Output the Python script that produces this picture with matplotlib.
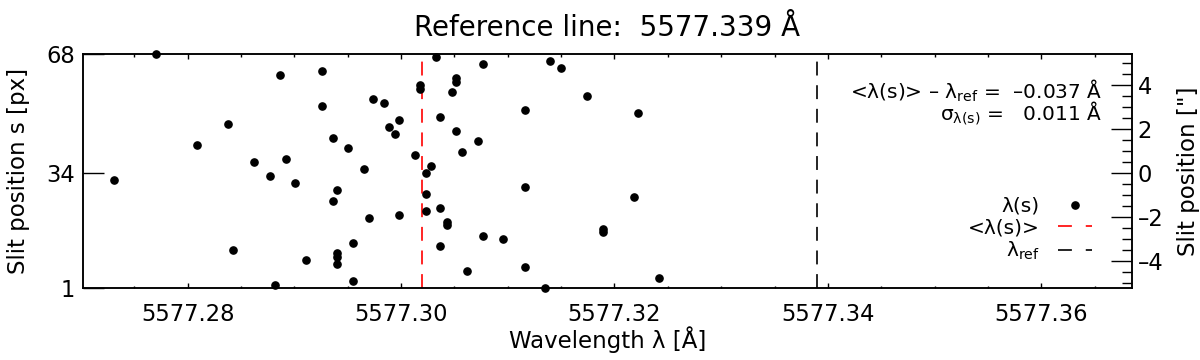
import numpy as np
import matplotlib
matplotlib.use("Agg")
import matplotlib.pyplot as plt
from matplotlib.ticker import MultipleLocator, FixedLocator, FuncFormatter

plt.rcParams['font.family'] = ['DejaVu Sans']
plt.rcParams['mathtext.fontset'] = 'custom'
plt.rcParams['mathtext.rm'] = 'DejaVu Sans'
plt.rcParams['mathtext.it'] = 'DejaVu Sans'
plt.rcParams['lines.scale_dashes'] = False

# data: slit pixel (5 and 25 missing) and fitted line centre
slit_px = [1, 2, 3, 4, 6, 7, 8, 9, 10, 11, 12, 13, 14, 15, 16, 17, 18, 19, 20,
           21, 22, 23, 24, 26, 27, 28, 29, 30, 31, 32, 33, 34, 35, 36, 37, 38,
           39, 40, 41, 42, 43, 44, 45, 46, 47, 48, 49, 50, 51, 52, 53, 54, 55,
           56, 57, 58, 59, 60, 61, 62, 63, 64, 65, 66, 67, 68]
wavelength = [5577.3135, 5577.2882, 5577.2955, 5577.3242, 5577.3062, 5577.3116,
              5577.2940, 5577.2911, 5577.2940, 5577.2940, 5577.2843, 5577.3037,
              5577.2955, 5577.3096, 5577.3077, 5577.3189, 5577.3189, 5577.3043,
              5577.3043, 5577.2970, 5577.2998, 5577.3023, 5577.3037, 5577.2936,
              5577.3218, 5577.3023, 5577.2940, 5577.3116, 5577.2901, 5577.2731,
              5577.2877, 5577.3023, 5577.2965, 5577.3028, 5577.2862, 5577.2892,
              5577.3013, 5577.3057, 5577.2950, 5577.2809, 5577.3072, 5577.2936,
              5577.2994, 5577.3052, 5577.2989, 5577.2838, 5577.2998, 5577.3037,
              5577.3222, 5577.3116, 5577.2926, 5577.2984, 5577.2974, 5577.3174,
              5577.3048, 5577.3018, 5577.3018, 5577.3052, 5577.3052, 5577.2887,
              5577.2926, 5577.3150, 5577.3077, 5577.3140, 5577.3033, 5577.2770]
lam_ref = 5577.339
lam_mean = 5577.302
diff_txt = "\u20130.037"
sigma_txt = "0.011"
x_ticks = [5577.28, 5577.30, 5577.32, 5577.34, 5577.36]
y_ticks = [1, 34, 68]

fig = plt.figure(figsize=(12, 3.6), dpi=100)
ax = fig.add_axes([83 / 1200, 72 / 360, 1049 / 1200, 234 / 360])

dash = (0, (10, 7))
pts, = ax.plot(wavelength, slit_px, 'o', color='black', ms=5.2, ls='none',
               label='\u03bb(s)', clip_on=False, zorder=3)
lm = ax.axvline(lam_mean, color='red', lw=1.2, ls=dash, label='<\u03bb(s)>')
lr = ax.axvline(lam_ref, color='black', lw=1.2, ls=dash,
                label='\u03bb$_{\\rm ref}$')

ax.set_xlim(5577.2702, 5577.3685)
ax.set_ylim(1, 68)
ax.xaxis.set_major_locator(FixedLocator(x_ticks))
ax.xaxis.set_major_formatter(FuncFormatter(lambda v, p: f"{v:.2f}"))
ax.xaxis.set_minor_locator(MultipleLocator(0.005))
ax.yaxis.set_major_locator(FixedLocator(y_ticks))
ax.tick_params(axis='x', which='major', direction='in', length=3.4, width=1,
               top=True, bottom=True, labelsize=16.3, pad=11)
ax.tick_params(axis='x', which='minor', direction='in', length=1.8, width=1,
               top=True, bottom=True)
ax.tick_params(axis='y', which='major', direction='in', length=15, width=1,
               left=True, right=False, labelsize=16.3, pad=6)
for sp in ax.spines.values():
    sp.set_linewidth(1.1)

ax2 = ax.twinx()
ax2.set_ylim(-5.24, 5.42)
ax2.yaxis.set_major_locator(MultipleLocator(2))
ax2.yaxis.set_minor_locator(MultipleLocator(0.5))
ax2.yaxis.set_major_formatter(FuncFormatter(lambda v, p: f"{v:.0f}".replace('-', '\u2013')))
ax2.tick_params(axis='y', which='major', direction='in', length=15, width=1,
                labelsize=16.3, pad=4)
ax2.tick_params(axis='y', which='minor', direction='in', length=7.5, width=1)
for sp in ax2.spines.values():
    sp.set_linewidth(1.1)

ax.set_xlabel('Wavelength \u03bb [\u00c5]', fontsize=16.5)
ax.xaxis.set_label_coords(0.5, -0.165)
ax.set_ylabel('Slit position s [px]', fontsize=16.5)
ax.yaxis.set_label_coords(-0.0505, 0.5)
ax2.set_ylabel('Slit position ["]', fontsize=16.5)
ax2.yaxis.set_label_coords(1.043, 0.5)

fig.text(0.506, 0.921, 'Reference line:  5577.339 \u00c5', ha='center',
         va='center', fontsize=20)

ax.text(0.972, 0.843, '<\u03bb(s)> \u2013 \u03bb$_{\\rm ref}$ =  ' + diff_txt + ' \u00c5',
        transform=ax.transAxes, ha='right', va='center', fontsize=14.5)
ax.text(0.972, 0.745, '\u03c3$_{\\rm \u03bb(s)}$ =   ' + sigma_txt + ' \u00c5',
        transform=ax.transAxes, ha='right', va='center', fontsize=14.5)

leg = ax.legend(handles=[pts, lm, lr], loc='upper right',
                bbox_to_anchor=(0.962, 0.39), frameon=False, markerfirst=False,
                numpoints=1, handlelength=1.7, handletextpad=0.9,
                labelspacing=0.12, fontsize=14.5, borderpad=0, borderaxespad=0)
for h in leg.legend_handles[1:]:
    h.set_linestyle((0, (10, 10)))

fig.savefig('out.png', dpi=100)
